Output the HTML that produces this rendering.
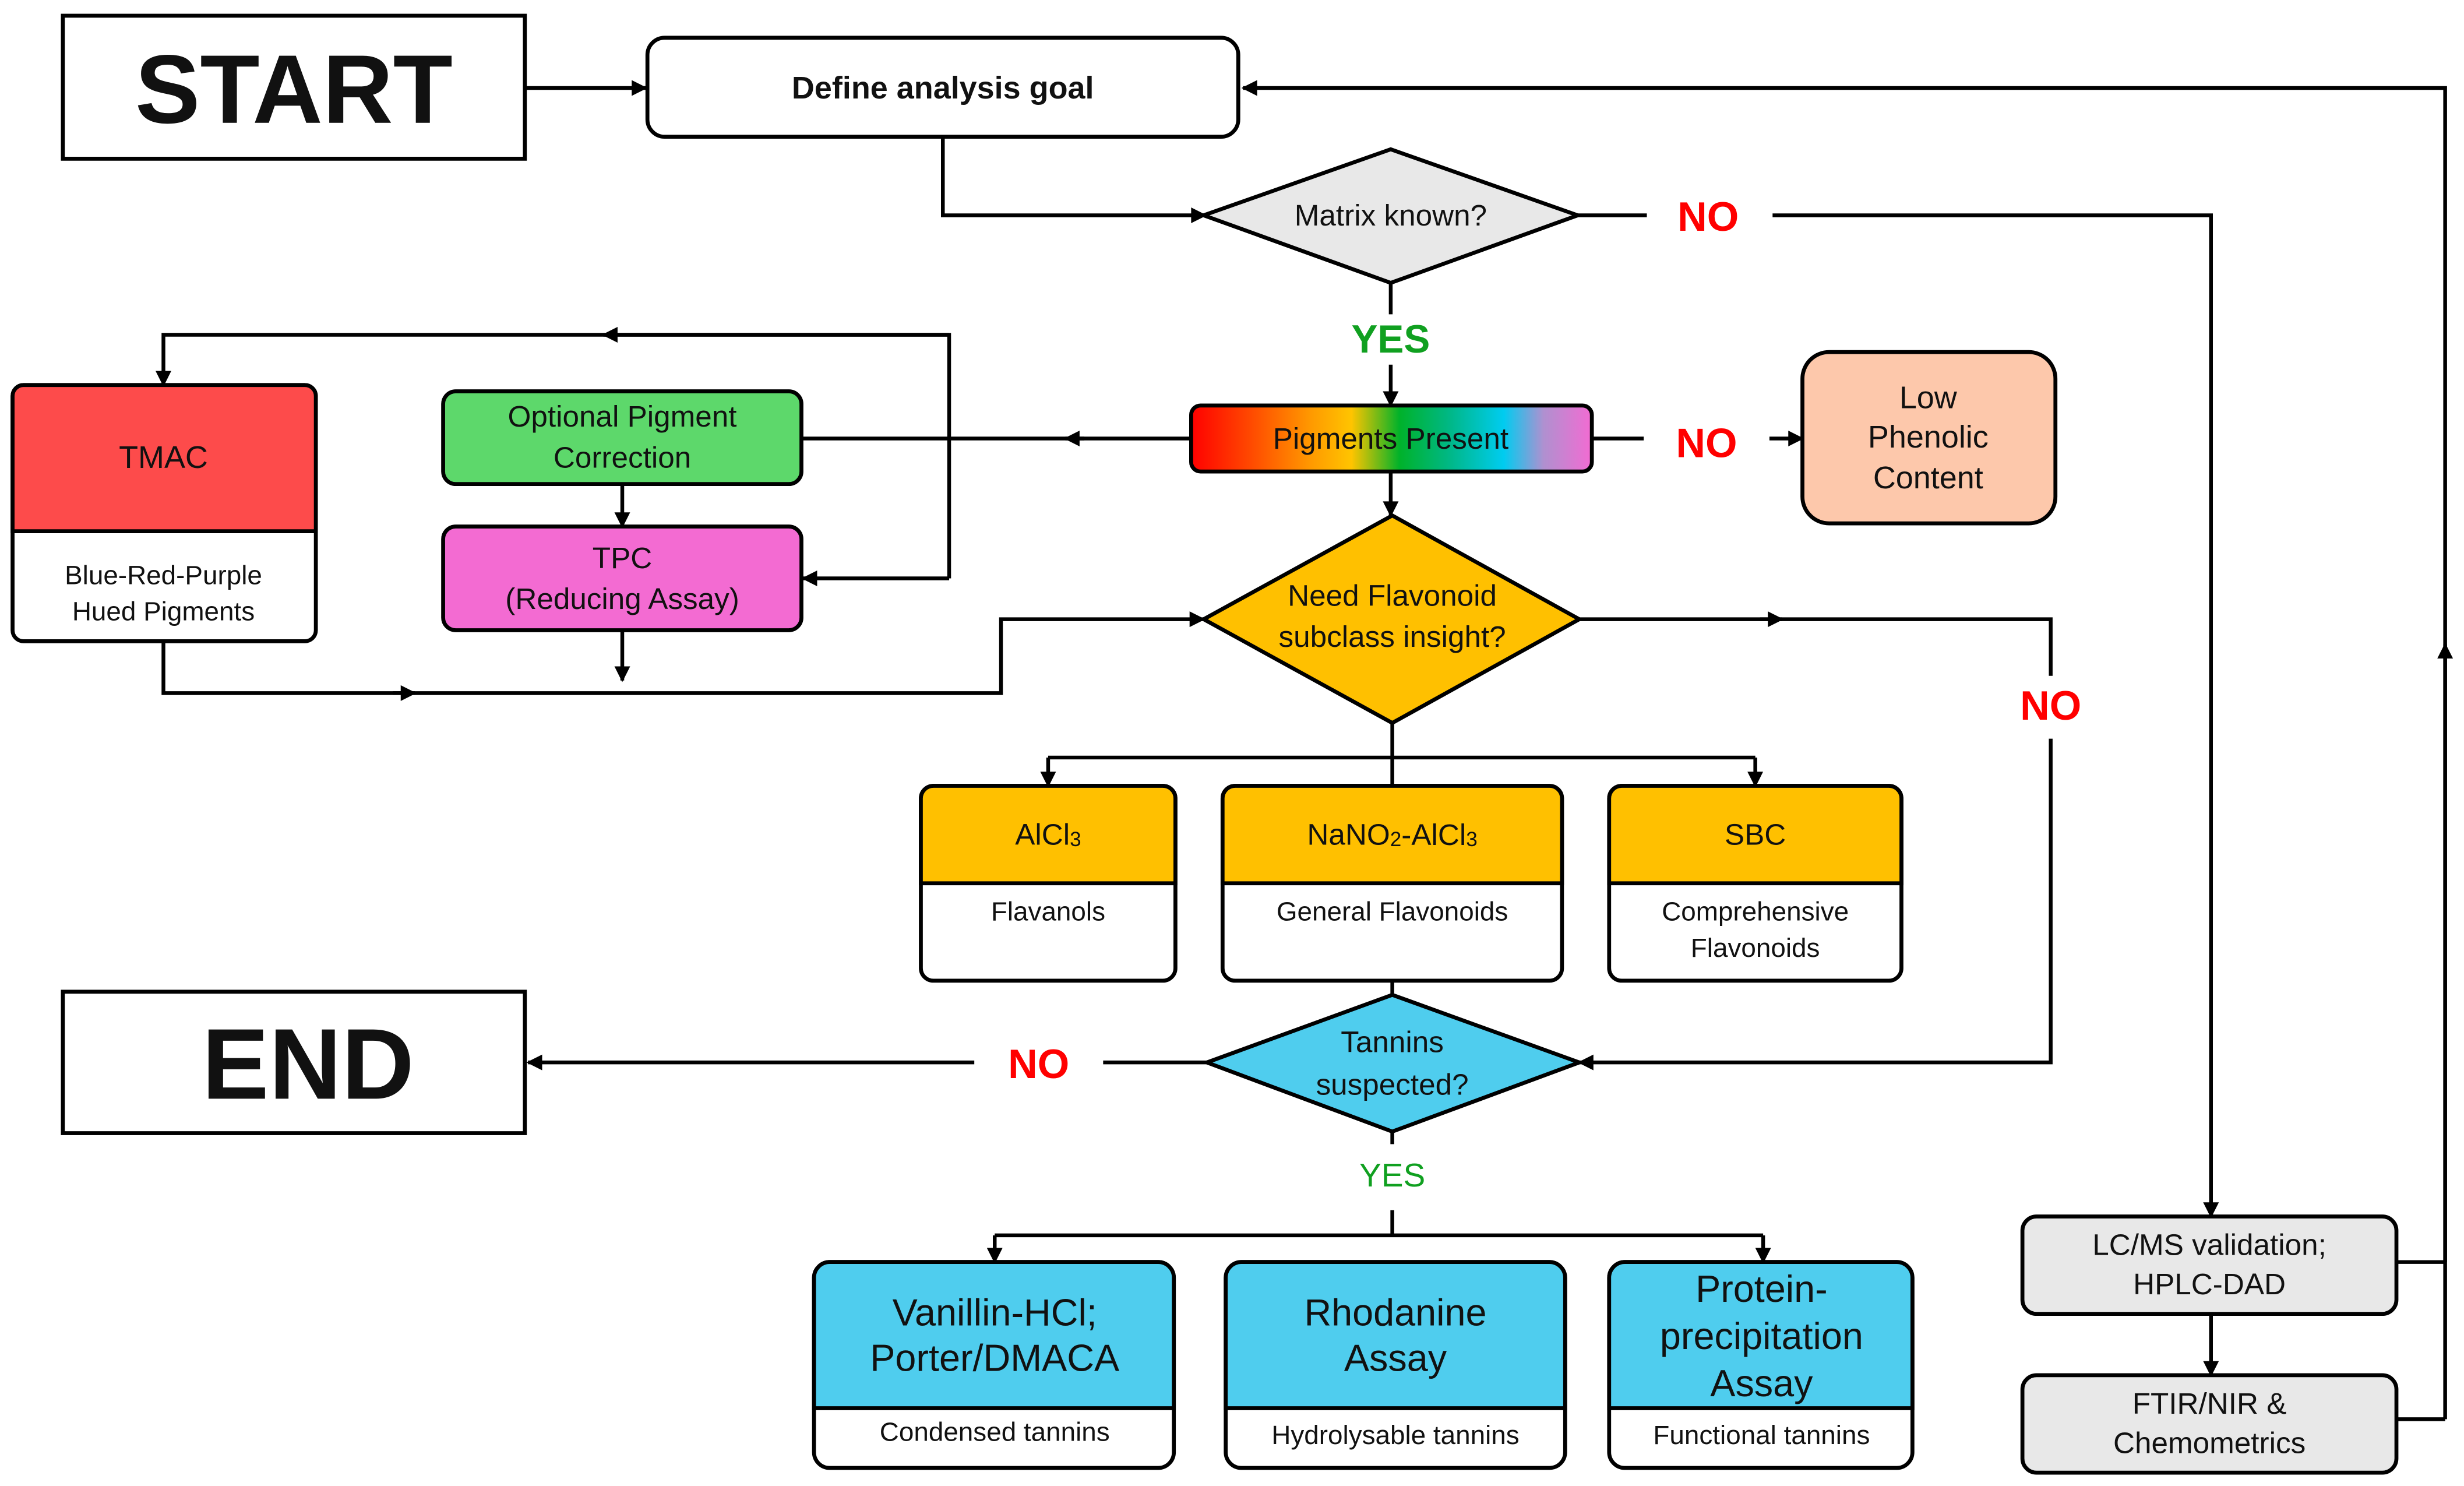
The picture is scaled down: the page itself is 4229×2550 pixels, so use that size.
<!DOCTYPE html>
<html><head><meta charset="utf-8"><style>
html,body{margin:0;padding:0;background:#fff;}
svg{display:block;}
text{font-family:"Liberation Sans",Arial,sans-serif;text-anchor:middle;dominant-baseline:central;fill:#111;}
</style></head><body>
<svg width="4229" height="2550" viewBox="0 0 1568 945.5" preserveAspectRatio="none" xmlns="http://www.w3.org/2000/svg">
<defs>
<marker id="a" viewBox="0 0 10 10" refX="9" refY="5" markerWidth="11" markerHeight="10" orient="auto" markerUnits="userSpaceOnUse"><path d="M0,0 L10,5 L0,10 z" fill="#000"/></marker>
<linearGradient id="rb" x1="0" x2="1" y1="0" y2="0">
<stop offset="0" stop-color="#ff0000"/><stop offset="0.15" stop-color="#ff4a00"/><stop offset="0.3" stop-color="#ff9a00"/><stop offset="0.4" stop-color="#ffc400"/><stop offset="0.52" stop-color="#00b22a"/><stop offset="0.65" stop-color="#00b88a"/><stop offset="0.78" stop-color="#00ccf0"/><stop offset="0.88" stop-color="#b090d0"/><stop offset="1" stop-color="#f36bd2"/>
</linearGradient>
</defs>
<g fill="none" stroke="#000" stroke-width="2.4">
<path d="M334,56 H411" marker-end="url(#a)"/>
<path d="M1556,903 V56 H791" marker-end="url(#a)"/>
<path d="M1556,803 V410" marker-end="url(#a)"/>
<path d="M600,87 V137 H767" marker-end="url(#a)"/>
<path d="M1004,137 H1048 M1128,137 H1407 V774" marker-end="url(#a)"/>
<path d="M885,180 V200"/>
<path d="M885,232 V258" marker-end="url(#a)"/>
<path d="M1013,279 H1046"/>
<path d="M1126,279 H1147" marker-end="url(#a)"/>
<path d="M758,279 H678" marker-end="url(#a)"/>
<path d="M690,279 H510"/>
<path d="M885,300 V328" marker-end="url(#a)"/>
<path d="M604,213 H384" marker-end="url(#a)"/>
<path d="M604,368 V213 H104 V245" marker-end="url(#a)"/>
<path d="M604,368 H511" marker-end="url(#a)"/>
<path d="M396,308 V335" marker-end="url(#a)"/>
<path d="M396,401 V433" marker-end="url(#a)"/>
<path d="M104,408 V441 H264" marker-end="url(#a)"/>
<path d="M250,441 H637 V394 H766" marker-end="url(#a)"/>
<path d="M1005,394 H1134" marker-end="url(#a)"/>
<path d="M1120,394 H1305 V430 M1305,470 V676 H1005" marker-end="url(#a)"/>
<path d="M886,460 V500 M667,482 H1117"/>
<path d="M667,482 V500" marker-end="url(#a)"/>
<path d="M1117,482 V500" marker-end="url(#a)"/>
<path d="M886,624 V633"/>
<path d="M768,676 H702 M620,676 H336" marker-end="url(#a)"/>
<path d="M886,720 V728 M886,770 V786 M633,786 H1122"/>
<path d="M633,786 V803" marker-end="url(#a)"/>
<path d="M1122,786 V803" marker-end="url(#a)"/>
<path d="M1525,803 H1556 M1525,903 H1556"/>
<path d="M1407,836 V875" marker-end="url(#a)"/>
</g>
<g stroke="#000" stroke-width="2.5">
<rect x="40" y="10" width="294" height="91" fill="#fff"/>
<rect x="412" y="24" width="376" height="63" rx="11" fill="#fff"/>
<polygon points="766,137 885,95 1004,137 885,180" fill="#e8e8e8"/>
<rect x="758" y="258" width="255" height="42" rx="6" fill="url(#rb)"/>
<rect x="1147" y="224" width="161" height="109" rx="17" fill="#fdc8ab"/>
<rect x="8" y="245" width="193" height="163" rx="7" fill="#fff"/>
<path d="M8,338 V252 a7,7 0 0 1 7,-7 H194 a7,7 0 0 1 7,7 V338 Z" fill="#fd4b4b"/>
<rect x="282" y="249" width="228" height="59" rx="8" fill="#5dd86b"/>
<rect x="282" y="335" width="228" height="66" rx="8" fill="#f36bd2"/>
<polygon points="766,394 886,328 1005,394 886,460" fill="#ffc000"/>
<rect x="586" y="500" width="162" height="124" rx="8" fill="#fff"/>
<path d="M586,562 V508 a8,8 0 0 1 8,-8 H740 a8,8 0 0 1 8,8 V562 Z" fill="#ffc000"/>
<rect x="778" y="500" width="216" height="124" rx="8" fill="#fff"/>
<path d="M778,562 V508 a8,8 0 0 1 8,-8 H986 a8,8 0 0 1 8,8 V562 Z" fill="#ffc000"/>
<rect x="1024" y="500" width="186" height="124" rx="8" fill="#fff"/>
<path d="M1024,562 V508 a8,8 0 0 1 8,-8 H1202 a8,8 0 0 1 8,8 V562 Z" fill="#ffc000"/>
<rect x="40" y="631" width="294" height="90" fill="#fff"/>
<polygon points="768,676 886,633 1005,676 886,720" fill="#4fcdee"/>
<rect x="518" y="803" width="229" height="131" rx="10" fill="#fff"/>
<path d="M518,896 V813 a10,10 0 0 1 10,-10 H737 a10,10 0 0 1 10,10 V896 Z" fill="#4fcdee"/>
<rect x="780" y="803" width="216" height="131" rx="10" fill="#fff"/>
<path d="M780,896 V813 a10,10 0 0 1 10,-10 H986 a10,10 0 0 1 10,10 V896 Z" fill="#4fcdee"/>
<rect x="1024" y="803" width="193" height="131" rx="10" fill="#fff"/>
<path d="M1024,896 V813 a10,10 0 0 1 10,-10 H1207 a10,10 0 0 1 10,10 V896 Z" fill="#4fcdee"/>
<rect x="1287" y="774" width="238" height="62" rx="9" fill="#e8e8e8"/>
<rect x="1287" y="875" width="238" height="62" rx="9" fill="#e8e8e8"/>
</g>
<text x="187" y="57" font-size="62" font-weight="bold">START</text>
<text x="196" y="677" font-size="64" font-weight="bold">END</text>
<text x="600" y="56" font-size="20" font-weight="bold">Define analysis goal</text>
<text x="885" y="137" font-size="19">Matrix known?</text>
<text x="1087" y="138" font-size="26" font-weight="bold" style="fill:#f00">NO</text>
<text x="885" y="216" font-size="25" font-weight="bold" style="fill:#10a020">YES</text>
<text x="885" y="279" font-size="19">Pigments Present</text>
<text x="1086" y="282" font-size="26" font-weight="bold" style="fill:#f00">NO</text>
<text x="1227" y="253" font-size="20">Low</text>
<text x="1227" y="278" font-size="20">Phenolic</text>
<text x="1227" y="304" font-size="20">Content</text>
<text x="104" y="291" font-size="20">TMAC</text>
<text x="104" y="366" font-size="17">Blue-Red-Purple</text>
<text x="104" y="389" font-size="17">Hued Pigments</text>
<text x="396" y="265" font-size="19">Optional Pigment</text>
<text x="396" y="291" font-size="19">Correction</text>
<text x="396" y="355" font-size="19">TPC</text>
<text x="396" y="381" font-size="19">(Reducing Assay)</text>
<text x="886" y="379" font-size="19">Need Flavonoid</text>
<text x="886" y="405" font-size="19">subclass insight?</text>
<text x="1305" y="449" font-size="26" font-weight="bold" style="fill:#f00">NO</text>
<text x="667" y="531" font-size="19">AlCl<tspan font-size="13" dy="3">3</tspan></text>
<text x="886" y="531" font-size="19">NaNO<tspan font-size="13" dy="3">2</tspan><tspan dy="-3">-AlCl</tspan><tspan font-size="13" dy="3">3</tspan></text>
<text x="1117" y="531" font-size="19">SBC</text>
<text x="667" y="580" font-size="17">Flavanols</text>
<text x="886" y="580" font-size="17">General Flavonoids</text>
<text x="1117" y="580" font-size="17">Comprehensive</text>
<text x="1117" y="603" font-size="17">Flavonoids</text>
<text x="886" y="663" font-size="19">Tannins</text>
<text x="886" y="690" font-size="19">suspected?</text>
<text x="661" y="677" font-size="26" font-weight="bold" style="fill:#f00">NO</text>
<text x="886" y="748" font-size="21" style="fill:#10a020">YES</text>
<text x="633" y="835" font-size="24">Vanillin-HCl;</text>
<text x="633" y="864" font-size="24">Porter/DMACA</text>
<text x="888" y="835" font-size="24">Rhodanine</text>
<text x="888" y="864" font-size="24">Assay</text>
<text x="1121" y="820" font-size="24">Protein-</text>
<text x="1121" y="850" font-size="24">precipitation</text>
<text x="1121" y="880" font-size="24">Assay</text>
<text x="633" y="911" font-size="17">Condensed tannins</text>
<text x="888" y="913" font-size="17">Hydrolysable tannins</text>
<text x="1121" y="913" font-size="17">Functional tannins</text>
<text x="1406" y="792" font-size="19">LC/MS validation;</text>
<text x="1406" y="817" font-size="19">HPLC-DAD</text>
<text x="1406" y="893" font-size="19">FTIR/NIR &amp;</text>
<text x="1406" y="918" font-size="19">Chemometrics</text>
</svg>
</body></html>
